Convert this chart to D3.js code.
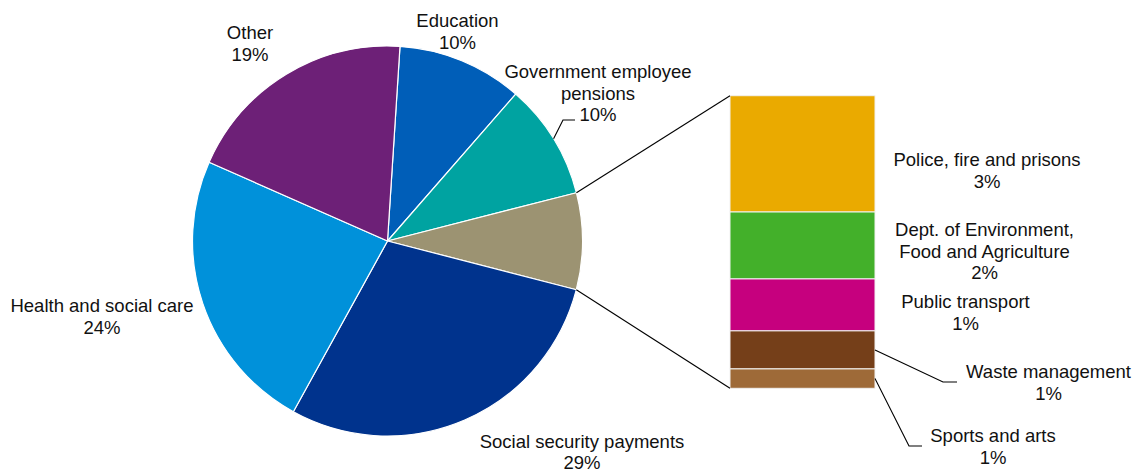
<!DOCTYPE html>
<html>
<head>
<meta charset="utf-8">
<script src="https://cdn.jsdelivr.net/npm/d3@7"></script>
<style>
  html, body { margin: 0; padding: 0; background: #fff; }
  svg text { font-family: "Liberation Sans", Arial, sans-serif; font-size: 18.5px; fill: #111; }
</style>
</head>
<body>
<svg id="chart" width="1137" height="473"></svg>
<script>
// Spending shares (% of total)
const pieCategories = ["Education", "Government employee pensions", "Other services",
                       "Social security payments", "Health and social care", "Other"];
const pieValuesMain = [10.4, 9.6, null, 29.0, 23.6, 19.4];   // "Other services" = sum of breakdown
const pieColors = ["#005EB8", "#00A3A1", "#9C9372", "#00338D", "#0091DA", "#6D2077"];

// Breakdown of "Other services"
const barCategories = ["Police, fire and prisons", "Dept. of Environment, Food and Agriculture",
                       "Public transport", "Waste management", "Sports and arts"];
const barValues = [3.18, 1.83, 1.42, 1.04, 0.53];
const barColors = ["#EAAA00", "#43B02A", "#C6007E", "#753F19", "#9E6A38"];

// Label text lines (name part), value appended as rounded percent
const pieLabelLines = [["Education"], ["Government employee", "pensions"], null,
                       ["Social security payments"], ["Health and social care"], ["Other"]];
const barLabelLines = [["Police, fire and prisons"], ["Dept. of Environment,", "Food and Agriculture"],
                       ["Public transport"], ["Waste management"], ["Sports and arts"]];

// ---- layout ----
const svg = d3.select("#chart");
const cx = 387.5, cy = 241, R = 195;
const startDeg = 3.67;
const lineH = 21.5;
const pct = v => d3.format(".0f")(v) + "%";

const otherServices = d3.sum(barValues);
const pieValues = pieValuesMain.map(v => v === null ? otherServices : v);
const pieData = pieCategories.map((c, i) => ({ cat: c, value: pieValues[i], i }));

const start = startDeg * Math.PI / 180;
const pie = d3.pie().value(d => d.value).sort(null)
  .startAngle(start).endAngle(start + 2 * Math.PI);
const arcs = pie(pieData);
const arc = d3.arc().innerRadius(0).outerRadius(R);

const gPie = svg.append("g").attr("transform", `translate(${cx},${cy})`);
gPie.selectAll("path").data(arcs).join("path")
  .attr("d", arc)
  .attr("fill", d => pieColors[d.data.i])
  .attr("stroke", "#fff").attr("stroke-width", 1.2).attr("stroke-linejoin", "round");

// point on the pie rim at a given angle (d3 convention: 0 = up, clockwise)
const rim = (a, r = R) => [cx + r * Math.sin(a), cy - r * Math.cos(a)];

// ---- stacked bar for "Other services" ----
const barX0 = 730, barX1 = 875, barTop = 95.7, barBottom = 388.3;
const y = d3.scaleLinear().domain([0, otherServices]).range([barBottom, barTop]);
const stackData = [];
let acc = 0;
barValues.forEach((v, i) => { stackData.push({ i, v, y0: acc, y1: acc + v }); acc += v; });
// first category sits on top: stack from top downward
const stackTopDown = stackData.map(d => ({ ...d, top: y(otherServices - d.y0), bot: y(otherServices - d.y1) }));

const gBar = svg.append("g");
gBar.selectAll("rect").data(stackTopDown).join("rect")
  .attr("x", barX0).attr("width", barX1 - barX0)
  .attr("y", d => d.top).attr("height", d => d.bot - d.top)
  .attr("fill", d => barColors[d.i])
  .attr("stroke", "#f2f2f2").attr("stroke-width", 1);

// connector lines from the "Other services" slice to the bar
const osArc = arcs[2];
const pA = rim(osArc.startAngle), pB = rim(osArc.endAngle);
svg.append("line").attr("x1", pA[0]).attr("y1", pA[1]).attr("x2", barX0).attr("y2", barTop)
  .attr("stroke", "#000").attr("stroke-width", 1.1);
svg.append("line").attr("x1", pB[0]).attr("y1", pB[1]).attr("x2", barX0).attr("y2", barBottom)
  .attr("stroke", "#000").attr("stroke-width", 1.1);

// ---- labels ----
function drawLabel(x, yFirst, lines, step = lineH) {
  const t = svg.append("text").attr("text-anchor", "middle");
  lines.forEach((s, k) => t.append("tspan").attr("x", x).attr("y", yFirst + k * step).text(s));
}

// label anchors: [center x, first baseline]
const pieLabelPos = [[457.5, 27], [598, 78], null, [582, 448], [102, 312], [250, 39]];
const barLabelPos = [[987, 166], [984.5, 236], [965.5, 308], [1048.5, 378], [993, 442]];

arcs.forEach((a, i) => {
  if (!pieLabelLines[i]) return;
  // bottom label sits at the lower edge: keep its second line inside the canvas
  const step = i === 3 ? 20.5 : lineH;
  drawLabel(pieLabelPos[i][0], pieLabelPos[i][1], [...pieLabelLines[i], pct(a.data.value)], step);
});
stackTopDown.forEach((d, i) => {
  drawLabel(barLabelPos[i][0], barLabelPos[i][1], [...barLabelLines[i], pct(d.v)]);
});

// leader lines
const leader = d3.line();
const govArc = arcs[1];
const gStart = rim((govArc.startAngle + govArc.endAngle) / 2);
svg.append("path").attr("d", leader([gStart, [563, 120], [575, 120]]))
  .attr("fill", "none").attr("stroke", "#000").attr("stroke-width", 1.1);

const wd = stackTopDown[3], sd = stackTopDown[4];
svg.append("path").attr("d", leader([[barX1, (wd.top + wd.bot) / 2], [943, 382], [957, 382]]))
  .attr("fill", "none").attr("stroke", "#000").attr("stroke-width", 1.1);
svg.append("path").attr("d", leader([[barX1, (sd.top + sd.bot) / 2], [909, 446], [922, 446]]))
  .attr("fill", "none").attr("stroke", "#000").attr("stroke-width", 1.1);
</script>
</body>
</html>
